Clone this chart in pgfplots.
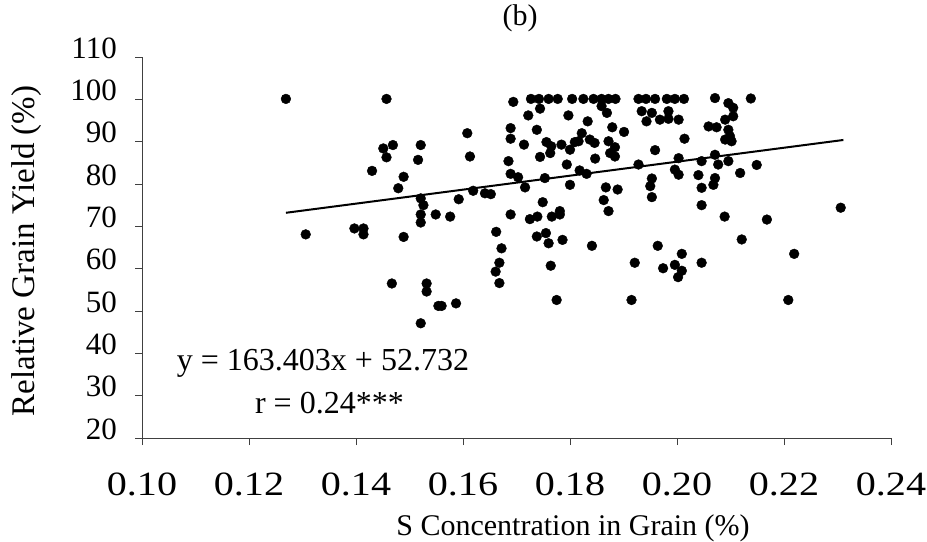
\documentclass[border=0pt]{standalone}
\usepackage{fontspec}
\setmainfont{Liberation Serif}
\newfontface\xtickfont[FakeStretch=1.18]{Liberation Serif}
\usepackage{pgfplots}
\pgfplotsset{compat=1.18}
\begin{document}
\begin{tikzpicture}
\path[use as bounding box] (0,0) rectangle (927bp,542bp);
\begin{axis}[
  at={(142bp,104bp)}, anchor=south west,
  width=749bp, height=381bp, scale only axis,
  xmin=0.10, xmax=0.24, ymin=20, ymax=110,
  axis lines*=left,
  axis line style={black!75, line width=0.9bp},
  tick style={black!75, line width=0.8bp},
  tick align=outside, major tick length=7bp,
  xtick={0.10,0.12,0.14,0.16,0.18,0.20,0.22,0.24},
  ytick={20,30,40,50,60,70,80,90,100,110},
  /pgf/number format/assume math mode=true,
  xticklabel style={/pgf/number format/.cd, fixed, fixed zerofill, precision=2, /tikz/.cd,
    font=\xtickfont\fontsize{34bp}{38bp}\selectfont, inner sep=0pt, anchor=north, yshift=-28bp},
  yticklabel style={font=\fontsize{31bp}{36bp}\selectfont, inner sep=0pt, anchor=east, xshift=-18bp, yshift=9bp},
  clip=false,
]
\addplot[only marks, mark=*, mark size=4.9bp, mark options={fill=black, draw=black}] coordinates {
(0.1269,100.1) (0.1306,68.1) (0.1397,69.5) (0.1414,69.5) (0.1414,68.1)
(0.1430,83.1) (0.1451,88.4) (0.1469,89.2) (0.1457,86.3) (0.1457,100.1)
(0.1479,79.0) (0.1489,81.7) (0.1489,67.5) (0.1467,56.5) (0.1521,89.2)
(0.1516,85.7) (0.1521,76.6) (0.1526,75.0) (0.1521,72.8) (0.1521,70.9)
(0.1532,56.5) (0.1532,54.6) (0.1521,47.1) (0.1549,72.8) (0.1554,51.2)
(0.1560,51.2) (0.1576,72.3) (0.1587,51.8) (0.1592,76.4) (0.1608,92.0)
(0.1613,86.5) (0.1619,78.4) (0.1641,77.8) (0.1652,77.6) (0.1662,68.7)
(0.1672,64.8) (0.1668,61.4) (0.1661,59.3) (0.1668,56.6) (0.1689,72.8)
(0.1694,99.4) (0.1727,100.1) (0.1742,100.1) (0.1760,100.1) (0.1777,100.1)
(0.1804,100.1) (0.1744,97.8) (0.1722,96.2) (0.1797,96.2) (0.1689,93.2)
(0.1689,90.7) (0.1738,92.8) (0.1822,92.0) (0.1714,89.3) (0.1756,89.9)
(0.1765,88.9) (0.1784,89.3) (0.1800,88.1) (0.1809,89.9) (0.1763,87.3)
(0.1744,86.4) (0.1685,85.4) (0.1794,84.6) (0.1689,82.4) (0.1703,81.6)
(0.1716,79.2) (0.1753,81.4) (0.1800,79.8) (0.1818,83.2) (0.1831,82.4)
(0.1749,75.7) (0.1725,71.7) (0.1739,72.3) (0.1766,72.3) (0.1781,73.6)
(0.1781,72.8) (0.1738,67.6) (0.1755,68.4) (0.1760,66.0) (0.1786,66.8)
(0.1764,60.7) (0.1775,52.6) (0.1825,100.1) (0.1844,100.1) (0.1859,100.1)
(0.1872,100.1) (0.1885,100.1) (0.1859,98.4) (0.1869,96.8) (0.1833,94.8)
(0.1879,93.4) (0.1901,92.3) (0.1816,90.1) (0.1837,90.5) (0.1846,89.7)
(0.1872,90.1) (0.1884,88.7) (0.1875,87.3) (0.1884,86.5) (0.1847,86.0)
(0.1867,79.2) (0.1889,78.7) (0.1863,76.2) (0.1872,73.6) (0.1841,65.4)
(0.1928,100.1) (0.1942,100.1) (0.1959,100.1) (0.1981,100.1) (0.1996,100.1)
(0.2013,100.1) (0.2071,100.3) (0.1934,97.2) (0.1953,96.8) (0.1943,94.8)
(0.1984,97.2) (0.1984,95.4) (0.2003,95.2) (0.1968,95.2) (0.2096,99.1)
(0.2105,98.0) (0.2105,96.0) (0.2090,95.2) (0.2059,93.6) (0.2074,93.4)
(0.2096,92.8) (0.2099,91.3) (0.2090,90.5) (0.2102,90.1) (0.2014,90.7)
(0.1959,88.0) (0.1928,84.6) (0.2003,86.1) (0.2046,85.4) (0.2071,86.9)
(0.2077,84.6) (0.2096,85.4) (0.1996,83.4) (0.2003,82.2) (0.2040,82.1)
(0.2071,81.4) (0.2118,82.6) (0.1953,81.3) (0.1950,79.5) (0.2046,79.1)
(0.2068,79.8) (0.1953,76.9) (0.2046,75.0) (0.2089,72.3) (0.1915,52.6)
(0.1921,61.4) (0.1964,65.4) (0.1974,60.1) (0.1996,60.9) (0.2009,63.5)
(0.2009,59.5) (0.2002,58.0) (0.2046,61.4) (0.2121,66.9) (0.2138,100.2)
(0.2149,84.5) (0.2168,71.6) (0.2306,74.4) (0.2219,63.5) (0.2208,52.6)
};
\addplot[black, line width=2bp] coordinates {(0.1269,73.2) (0.2311,90.4)};
\node[anchor=base west, inner sep=0pt, font=\fontsize{32bp}{36bp}\selectfont] at (axis cs:0.1065,35.9) {y = 163.403x + 52.732};
\node[anchor=base west, inner sep=0pt, font=\fontsize{32bp}{36bp}\selectfont] at (axis cs:0.1211,25.8) {r = 0.24***};
\end{axis}
\node[font=\fontsize{30bp}{34bp}\selectfont, inner sep=0pt] at (520bp,524bp) {(b)};
\node[font=\fontsize{33bp}{38bp}\selectfont, inner sep=0pt, rotate=90] at (27bp,291bp) {Relative Grain Yield (\%)};
\node[font=\fontsize{30bp}{34bp}\selectfont, inner sep=0pt] at (573bp,14bp) {S Concentration in Grain (\%)};
\end{tikzpicture}
\end{document}
